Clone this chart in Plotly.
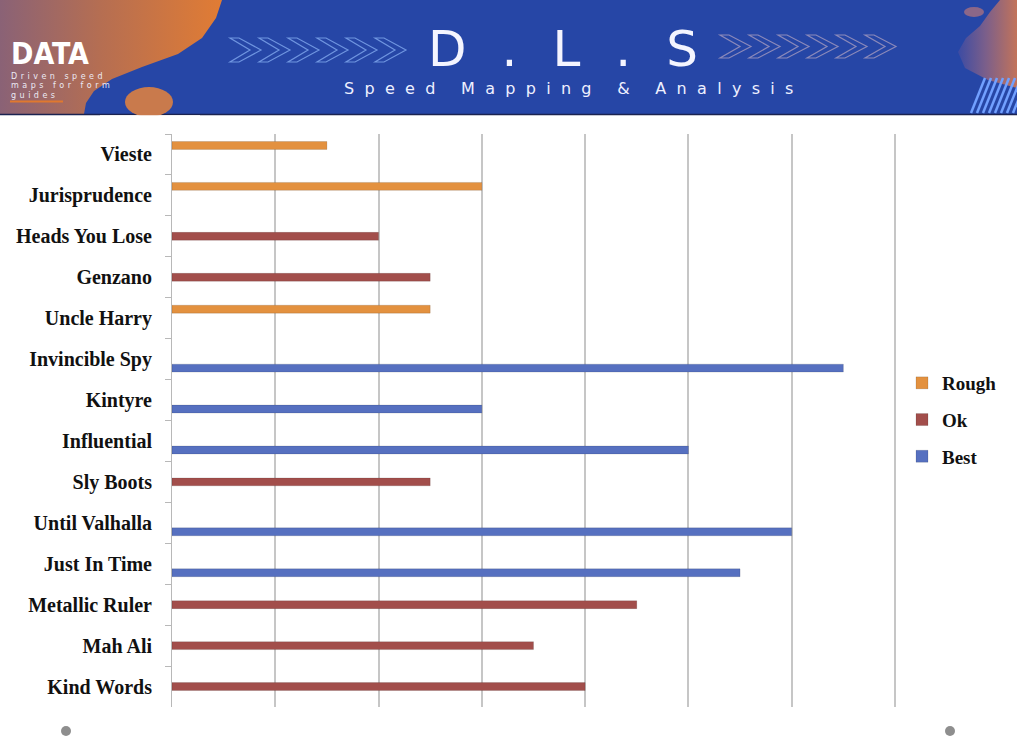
import plotly.graph_objects as go
import math

# ---------------- data ----------------
horses = ["Vieste", "Jurisprudence", "Heads You Lose", "Genzano", "Uncle Harry",
          "Invincible Spy", "Kintyre", "Influential", "Sly Boots", "Until Valhalla",
          "Just In Time", "Metallic Ruler", "Mah Ali", "Kind Words"]
rough = [1.5, 3.0, None, None, 2.5, None, None, None, None, None, None, None, None, None]
ok    = [None, None, 2.0, 2.5, None, None, None, None, 2.5, None, None, 4.5, 3.5, 4.0]
best  = [None, None, None, None, None, 6.5, 3.0, 5.0, None, 6.0, 5.5, None, None, None]
series_names = ["Rough", "Ok", "Best"]
series_colors = ["#e3913f", "#a24e4b", "#5670c0"]

W, H = 1017, 740
X_MAX = 7.05
UNIT = (895 - 172) / 7.0
PL, PT, PB = 172, 134, 707
PR = PL + X_MAX * UNIT

fig = go.Figure()
for name, vals, col in zip(series_names, [rough, ok, best], series_colors):
    fig.add_trace(go.Bar(
        y=horses, x=vals, orientation="h", name=name, legendgroup=name,
        marker=dict(color=col, line=dict(color="rgba(0,0,0,0.12)", width=1)),
    ))

# ---------------- header decorations (pixel overlay axes) ----------------
def blob_trace(pts, cs, start, stop):
    xs = [p[0] for p in pts] + [pts[0][0]]
    ys = [p[1] for p in pts] + [pts[0][1]]
    return go.Scatter(x=xs, y=ys, xaxis="x2", yaxis="y2", mode="lines",
                      line=dict(width=0), fill="toself",
                      fillgradient=dict(type="horizontal", colorscale=cs, start=start, stop=stop),
                      hoverinfo="skip", showlegend=False)

left_blob = [(0, 0), (222, 0), (216, 18), (202, 38), (178, 54), (142, 67), (112, 79),
             (94, 91), (86, 103), (84, 114), (0, 114)]
fig.add_trace(blob_trace(left_blob, [[0, "#8a6276"], [0.45, "#b56e52"], [1, "#e17c34"]], 0, 222))
right_blob = [(1000, 0), (990, 12), (980, 26), (966, 38), (958, 52), (965, 68), (988, 80),
              (1017, 88), (1017, 0)]
fig.add_trace(blob_trace(right_blob, [[0, "#3549a6"], [0.5, "#7c5f8a"], [1, "#c2735a"]], 955, 1017))

shapes = []
shapes.append(dict(type="rect", xref="x2", yref="y2", x0=0, x1=W, y0=0, y1=114,
                   fillcolor="#2646a6", line=dict(width=0), layer="below"))
shapes.append(dict(type="line", xref="x2", yref="y2", x0=0, x1=W, y0=114.5, y1=114.5,
                   line=dict(color="#1b2350", width=1.5)))
shapes.append(dict(type="circle", xref="x2", yref="y2", x0=125, x1=173, y0=87, y1=117,
                   fillcolor="#c97a4c", line=dict(width=0)))
shapes.append(dict(type="rect", xref="x2", yref="y2", x0=100, x1=200, y0=115.2, y1=125,
                   fillcolor="white", line=dict(width=0)))
shapes.append(dict(type="line", xref="x2", yref="y2", x0=10, x1=63, y0=101.5, y1=101.5,
                   line=dict(color="#e0782f", width=2)))
shapes.append(dict(type="circle", xref="x2", yref="y2", x0=964, x1=984, y0=7, y1=17,
                   fillcolor="#8c6788", line=dict(width=0)))

def chevron(x, y0, y1, col):
    ym = (y0 + y1) / 2
    p = (f"M{x},{y0} L{x+9},{y0} L{x+31},{ym} L{x+9},{y1} L{x},{y1} L{x+20},{ym} Z")
    return dict(type="path", xref="x2", yref="y2", path=p, line=dict(color=col, width=1.2))
for i in range(6):
    shapes.append(chevron(230 + 29 * i, 38, 62, "#6f95e0"))
for i in range(6):
    shapes.append(chevron(720 + 29 * i, 35, 58, "#8b89ba"))

cx, cy, R = 1017, 113, 48
for i in range(9):
    x0 = 965 + 6 * i
    if x0 <= cx - R:
        continue
    dx, dy = 14, -35
    a = dx * dx + dy * dy
    b = 2 * ((x0 - cx) * dx)
    c = (x0 - cx) ** 2 - R * R
    t = (-b + math.sqrt(b * b - 4 * a * c)) / (2 * a)
    t = min(t, 1.0)
    shapes.append(dict(type="line", xref="x2", yref="y2", x0=x0, y0=cy, x1=x0 + dx * t,
                       y1=cy + dy * t, line=dict(color="#72a0ff", width=2.5)))
for xc in (66, 950):
    shapes.append(dict(type="circle", xref="x2", yref="y2", x0=xc - 5, x1=xc + 5,
                       y0=726, y1=736, fillcolor="#8e8e8e", line=dict(width=0)))

annotations = []
def ann(text, x, y, size, family, color, xanchor="left", align="left", weight="normal"):
    annotations.append(dict(text=text, x=x, y=y, xref="x2", yref="y2", showarrow=False,
                            xanchor=xanchor, yanchor="middle", align=align,
                            font=dict(size=size, family=family, color=color, weight=weight)))

ann("DATA", 9, 53.5, 30, "DejaVu Sans Condensed, DejaVu Sans, sans-serif", "white", weight="bold")
ann('<span style="font-size:8px;letter-spacing:3.5px">Driven speed</span><br>'
    '<span style="font-size:8px;letter-spacing:3.5px">maps for form</span><br>'
    '<span style="font-size:8px;letter-spacing:3.5px">guides</span>',
    9, 85.6, 7.2, "DejaVu Sans", "#eceaf4")
ann('<span style="letter-spacing:35px">D.L.</span>S', 562.5, 49.1, 50, "DejaVu Sans",
    "#f4f5ff", xanchor="center", align="center")
ann('<span style="letter-spacing:10.3px">Speed Mapping &amp; Analysi</span>s', 568, 88, 16,
    "DejaVu Sans", "#eef0ff", xanchor="center", align="center")

label_font = "Liberation Serif, serif"

fig.update_layout(
    width=W, height=H,
    margin=dict(l=0, r=0, t=0, b=0),
    paper_bgcolor="white", plot_bgcolor="rgba(0,0,0,0)",
    barmode="group", bargap=0.34, bargroupgap=0.12,
    showlegend=True,
    legend=dict(x=902 / W, y=1 - 420 / H, xanchor="left", yanchor="middle",
                traceorder="grouped", tracegroupgap=9,
                font=dict(family=label_font, size=19, color="#111111", weight="bold"),
                bgcolor="rgba(0,0,0,0)"),
    xaxis=dict(domain=[PL / W, PR / W], range=[0, X_MAX], dtick=1, showgrid=True,
               gridcolor="#c6c6c6", gridwidth=1.5, zeroline=False, showticklabels=False,
               showline=False, ticks="", fixedrange=True, anchor="y"),
    yaxis=dict(domain=[(H - PB) / H, (H - PT) / H], autorange="reversed", type="category",
               showline=True, linecolor="#b8b8b8", linewidth=1, ticks="outside",
               tickson="boundaries", ticklen=6, tickcolor="#b8b8b8", showgrid=False,
               ticklabelstandoff=15,
               tickfont=dict(family=label_font, size=20, color="#111111", weight="bold"),
               anchor="x"),
    xaxis2=dict(domain=[0, 1], range=[0, W], visible=False, anchor="y2", fixedrange=True),
    yaxis2=dict(domain=[0, 1], range=[H, 0], visible=False, anchor="x2", fixedrange=True),
    shapes=shapes,
    annotations=annotations,
)

fig.write_html("out.html")
